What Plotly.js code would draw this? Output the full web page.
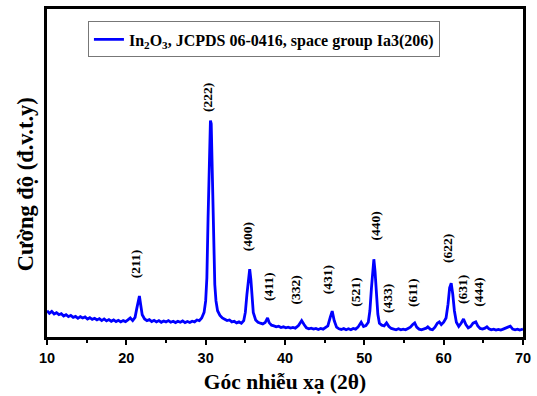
<!DOCTYPE html>
<html>
<head>
<meta charset="utf-8">
<script src="https://cdn.plot.ly/plotly-3.0.1.min.js"></script>
<style>html,body{margin:0;padding:0;background:#fff;}#chart{width:537px;height:396px;}</style>
</head>
<body>
<div id="chart"></div>
<script>
const twoTheta = [
10.0,10.3,10.6,10.9,11.2,11.5,11.8,12.1,12.4,12.7,13.0,13.3,13.6,13.9,14.2,14.5,14.8,15.1,15.4,15.7,
16.0,16.3,16.6,16.9,17.2,17.5,17.8,18.1,18.4,18.7,19.0,19.3,19.6,19.9,20.2,20.5,20.8,21.1,21.3,21.5,
21.65,21.8,22.0,22.3,22.6,22.9,23.2,23.5,23.8,24.1,24.4,24.7,25.0,25.3,25.6,25.9,26.2,26.5,26.8,27.1,
27.4,27.7,28.0,28.3,28.6,28.9,29.2,29.5,29.8,30.0,30.15,30.3,30.45,30.6,30.7,30.8,30.9,31.0,31.15,31.3,
31.5,31.8,32.1,32.4,32.7,33.0,33.3,33.6,33.9,34.2,34.5,34.8,35.0,35.2,35.4,35.55,35.7,35.85,36.0,36.3,
36.6,36.9,37.2,37.5,37.8,38.0,38.3,38.6,38.9,39.2,39.5,39.8,40.1,40.4,40.7,41.0,41.3,41.7,42.1,42.4,
42.7,43.0,43.3,43.6,43.9,44.2,44.5,44.8,45.1,45.4,45.7,45.95,46.2,46.5,46.8,47.1,47.4,47.7,48.0,48.3,
48.6,48.9,49.2,49.6,49.9,50.2,50.5,50.7,50.9,51.05,51.2,51.35,51.5,51.7,51.9,52.2,52.5,52.8,53.1,53.4,
53.7,54.0,54.3,54.6,54.9,55.2,55.5,55.8,56.1,56.35,56.6,56.9,57.2,57.5,57.8,58.0,58.3,58.6,58.9,59.2,
59.45,59.7,60.0,60.3,60.55,60.75,60.95,61.15,61.35,61.6,61.9,62.2,62.5,62.8,63.1,63.4,63.7,64.05,64.3,64.6,
64.9,65.2,65.45,65.7,66.0,66.3,66.6,66.9,67.2,67.5,67.8,68.1,68.4,68.7,69.0,69.3,69.6,70.0
];
const intensity = [
80,72,78,70,74,68,71,64,68,62,66,60,63,57,62,58,61,55,59,54,
57,52,56,50,55,49,53,48,52,47,51,46,50,47,52,58,50,60,85,115,
125,100,68,55,50,53,47,51,46,50,45,49,46,50,45,48,44,48,45,49,
44,47,44,48,46,52,50,58,75,110,180,360,560,660,650,540,400,270,160,110,
80,66,58,54,50,52,46,48,43,46,42,50,75,130,190,207,175,120,75,52,
45,42,40,44,58,44,36,34,31,33,29,31,28,30,27,29,27,35,50,38,
28,25,27,24,26,23,26,24,28,34,60,79,50,30,25,23,26,22,25,22,
26,24,30,45,32,35,45,80,150,210,237,200,130,70,42,36,34,43,32,26,
24,22,25,22,24,22,26,30,38,43,30,24,22,24,27,31,24,22,30,42,
46,38,45,58,100,150,164,130,80,45,32,42,55,38,28,32,42,46,34,26,
24,27,31,25,22,24,21,23,21,24,26,30,33,24,22,24,21,24
];
// Miller index labels and where they sit (2θ, intensity)
const hklLabels = ['(211)','(222)','(400)','(411)','(332)','(431)','(521)','(440)','(433)','(611)','(622)','(631)','(444)'];
const hklX = [21.1,30.3,35.2,37.85,41.3,45.3,48.8,51.35,53.0,56.0,60.4,62.3,64.3];
const hklY = [222,729,307,155,143,173,137,337,116,137,271,146,137];
const xTicks = [10,20,30,40,50,60,70];
const seriesName = 'In<sub>2</sub>O<sub>3</sub>, JCPDS 06-0416, space group Ia3(206)';
const xTitle = 'Góc nhiễu xạ (2θ)';
const yTitle = 'Cường độ (đ.v.t.y)';

const serif = 'Liberation Serif, Times New Roman, serif';
const annotations = hklLabels.map((t,i)=>({
  x: hklX[i], y: hklY[i], xref:'x', yref:'y', text: t, showarrow:false,
  textangle:-90, font:{family:serif, size:13.5, color:'#000', weight:'bold'}
}));
annotations.push({
  x:-0.046, y:0.466, xref:'paper', yref:'paper', text:yTitle, showarrow:false,
  textangle:-90, xanchor:'center', yanchor:'middle',
  font:{family:serif, size:22.5, color:'#000', weight:'bold'}
});

const trace = {
  x: twoTheta, y: intensity, type:'scatter', mode:'lines', name: seriesName,
  line:{color:'#0000ff', width:2.8}
};

const layout = {
  width:537, height:396,
  margin:{l:47, r:14, t:9, b:59},
  paper_bgcolor:'#fff', plot_bgcolor:'#fff',
  showlegend:true,
  legend:{x:0.086, y:0.962, xanchor:'left', yanchor:'top', bgcolor:'#fff',
    bordercolor:'#777', borderwidth:1, font:{family:serif, size:16, color:'#000', weight:'bold'},
    itemwidth:30, tracegroupgap:0},
  xaxis:{range:[10,70], tickvals:xTicks, ticktext:xTicks.map(String), ticks:'outside', ticklen:5, tickwidth:2, tickcolor:'#000',
    minor:{dtick:5, tick0:5, ticks:'outside', ticklen:3, tickwidth:2, tickcolor:'#000'},
    showline:true, linewidth:3, linecolor:'#000', mirror:true, showgrid:false, zeroline:false,
    ticklabelstandoff:1,
    tickfont:{family:'Liberation Sans, Arial, sans-serif', size:14.5, color:'#000', weight:'bold'},
    title:{text:xTitle, font:{family:serif, size:21.5, color:'#000', weight:'bold'}, standoff:9}},
  yaxis:{range:[0,1000], showticklabels:false, ticks:'', showline:true, linewidth:3, linecolor:'#000', mirror:true,
    showgrid:false, zeroline:false},
  annotations: annotations
};

Plotly.newPlot('chart', [trace], layout, {displayModeBar:false, staticPlot:true});
</script>
</body>
</html>
